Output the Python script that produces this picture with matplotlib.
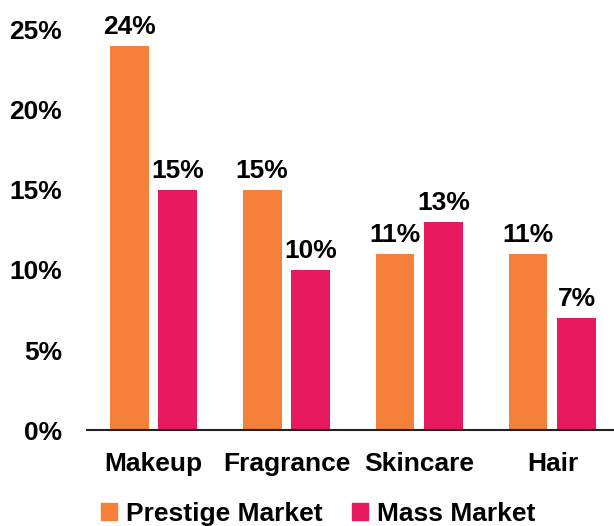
import numpy as np
import matplotlib.pyplot as plt
from matplotlib.patches import Patch

plt.rcParams['font.family'] = ['Liberation Sans', 'DejaVu Sans']
plt.rcParams['font.weight'] = 'bold'

categories = ["Makeup", "Fragrance", "Skincare", "Hair"]
prestige = [24, 15, 11, 11]
mass = [15, 10, 13, 7]
yticks = [0, 5, 10, 15, 20, 25]

orange = "#F5803A"
magenta = "#E8195E"
fs = 19

fig = plt.figure(figsize=(6.14, 5.26), dpi=100)
ax = fig.add_axes([0.1417, 0.1825, 0.8664, 0.7605])

x = np.arange(len(categories))
w = 0.293
off = 0.184
b1 = ax.bar(x - off, prestige, w, color=orange)
b2 = ax.bar(x + off, mass, w, color=magenta)

for bars, vals in ((b1, prestige), (b2, mass)):
    for b, v in zip(bars, vals):
        ax.annotate(f"{v}%", (b.get_x() + b.get_width() / 2, v),
                    xytext=(0, 5), textcoords="offset points",
                    ha="center", va="bottom", fontsize=fs, fontweight="bold")

ax.set_xlim(-0.5, 3.5)
ax.set_ylim(0, 25)
ax.set_yticks(yticks)
ax.set_yticklabels([f"{t}%" for t in yticks])
ax.set_xticks(x)
ax.set_xticklabels(categories)
ax.tick_params(axis="both", length=0, labelsize=fs)
ax.tick_params(axis="y", pad=18)
ax.tick_params(axis="x", pad=16)
for s in ("top", "right", "left"):
    ax.spines[s].set_visible(False)
ax.spines["bottom"].set_linewidth(1.5)
ax.spines["bottom"].set_color("#222222")

handles = [Patch(color=orange, label="Prestige Market"),
           Patch(color=magenta, label="Mass Market")]
fig.legend(handles=handles, loc="lower center", ncol=2, frameon=False,
           bbox_to_anchor=(0.518, -0.045), fontsize=fs, handlelength=0.6,
           handleheight=0.6, handletextpad=0.35, columnspacing=1.1)

fig.savefig("out.png", dpi=100)
